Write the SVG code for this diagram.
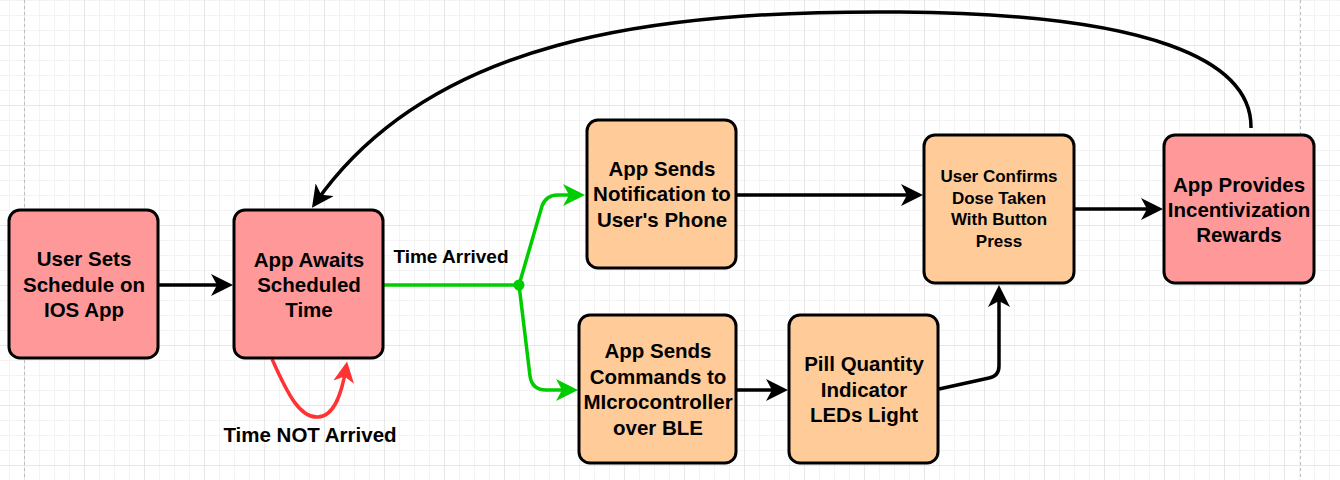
<svg xmlns="http://www.w3.org/2000/svg" width="1340" height="480" viewBox="0 0 1340 480">
<style>
.node rect{stroke:#000;stroke-width:3}
.red rect{fill:#FF9999}
.org rect{fill:#FFCC99}
text{font-family:"Liberation Sans",Arial,Helvetica,sans-serif;font-weight:bold;fill:#000;text-anchor:middle}
.t20{font-size:20.5px}
.t17{font-size:17px}
.lbl18{font-size:19px}
.blk{fill:none;stroke:#000;stroke-width:3.5}
.grn{fill:none;stroke:#00CC00;stroke-width:3.5}
.rd{fill:none;stroke:#FF3333;stroke-width:3.5}
</style>
<defs>
<pattern id="grid" patternUnits="userSpaceOnUse" x="24" y="45" width="60" height="60">
<rect x="0" y="0" width="60" height="60" fill="#ffffff"/>
<rect x="15" y="0" width="1" height="60" fill="#f3f3f3"/>
<rect x="30" y="0" width="1" height="60" fill="#f3f3f3"/>
<rect x="45" y="0" width="1" height="60" fill="#f3f3f3"/>
<rect x="0" y="15" width="60" height="1" fill="#f3f3f3"/>
<rect x="0" y="30" width="60" height="1" fill="#f3f3f3"/>
<rect x="0" y="45" width="60" height="1" fill="#f3f3f3"/>
<rect x="0" y="0" width="1" height="60" fill="#e6e6e6"/>
<rect x="0" y="0" width="60" height="1" fill="#e6e6e6"/>
</pattern>
<marker id="ab" viewBox="0 0 22 22" refX="15" refY="11" markerWidth="22" markerHeight="22" markerUnits="userSpaceOnUse" orient="auto">
<path d="M0,0 L22,11 L0,22 L6,11 Z" fill="#000"/>
</marker>
<marker id="ag" viewBox="0 0 22 22" refX="15" refY="11" markerWidth="22" markerHeight="22" markerUnits="userSpaceOnUse" orient="auto">
<path d="M0,0 L22,11 L0,22 L6,11 Z" fill="#00CC00"/>
</marker>
<marker id="ar" viewBox="0 0 22 22" refX="15" refY="11" markerWidth="21" markerHeight="21" markerUnits="userSpaceOnUse" orient="auto">
<path d="M0,0 L22,11 L0,22 L6,11 Z" fill="#FF3333"/>
</marker>
</defs>
<rect x="0" y="0" width="1340" height="480" fill="url(#grid)"/>
<line x1="24.5" y1="0" x2="24.5" y2="480" stroke="#bdbdbd" stroke-width="1" stroke-dasharray="3,3"/>
<line x1="1300.5" y1="0" x2="1300.5" y2="480" stroke="#bdbdbd" stroke-width="1" stroke-dasharray="3,3"/>

<g id="connectors">
<path class="blk" d="M159,285 L226,285" marker-end="url(#ab)"/>
<path class="grn" d="M384,285 L519,285"/>
<path class="grn" d="M519,285 L542,206 Q546,195 558,195 L578,195" marker-end="url(#ag)"/>
<path class="grn" d="M519,285 L530,376 Q532,390 546,390 L571,390" marker-end="url(#ag)"/>
<circle cx="519" cy="285" r="5.5" fill="#00CC00"/>
<path class="blk" d="M737,195 L916,195" marker-end="url(#ab)"/>
<path class="blk" d="M1075,209 L1156,209" marker-end="url(#ab)"/>
<path class="blk" d="M737,390 L781,390" marker-end="url(#ab)"/>
<path class="blk" d="M939,389 L989,378 Q999,376 999,366 L999,292" marker-end="url(#ab)"/>
<path class="blk" d="M1251,128 C1252,60 1150,14 900,12 C650,10 430,40 316,202" marker-end="url(#ab)"/>
<path class="rd" d="M272,359 C288,395 300,418 318,417 C335,416 342,392 346,368" marker-end="url(#ar)"/>
<text class="lbl18" x="451" y="263">Time Arrived</text>
<text class="t20" x="310" y="442">Time NOT Arrived</text>
</g>

<g id="n1" class="node red">
<rect x="9" y="210" width="149" height="148" rx="11"/>
<text class="t20" x="84" y="266">User Sets</text>
<text class="t20" x="84" y="292">Schedule on</text>
<text class="t20" x="84" y="317">IOS App</text>
</g>
<g id="n2" class="node red">
<rect x="234" y="210" width="149" height="148" rx="11"/>
<text class="t20" x="309" y="267">App Awaits</text>
<text class="t20" x="309" y="292">Scheduled</text>
<text class="t20" x="309" y="317">Time</text>
</g>
<g id="n3" class="node org">
<rect x="587" y="120" width="149" height="148" rx="11"/>
<text class="t20" x="662" y="176">App Sends</text>
<text class="t20" x="662" y="201">Notification to</text>
<text class="t20" x="662" y="227">User's Phone</text>
</g>
<g id="n4" class="node org">
<rect x="579" y="315" width="157" height="148" rx="11"/>
<text class="t20" x="658" y="358">App Sends</text>
<text class="t20" x="658" y="384">Commands to</text>
<text class="t20" x="658" y="409">MIcrocontroller</text>
<text class="t20" x="658" y="435">over BLE</text>
</g>
<g id="n5" class="node org">
<rect x="789" y="315" width="149" height="148" rx="11"/>
<text class="t20" x="864" y="371">Pill Quantity</text>
<text class="t20" x="864" y="397">Indicator</text>
<text class="t20" x="864" y="422">LEDs Light</text>
</g>
<g id="n6" class="node org">
<rect x="924" y="135" width="150" height="148" rx="11"/>
<text class="t17" x="999" y="182">User Confirms</text>
<text class="t17" x="999" y="204">Dose Taken</text>
<text class="t17" x="999" y="225">With Button</text>
<text class="t17" x="999" y="247">Press</text>
</g>
<g id="n7" class="node red">
<rect x="1164" y="135" width="150" height="148" rx="11"/>
<text class="t20" x="1239" y="192">App Provides</text>
<text class="t20" x="1239" y="217">Incentivization</text>
<text class="t20" x="1239" y="242">Rewards</text>
</g>
</svg>
